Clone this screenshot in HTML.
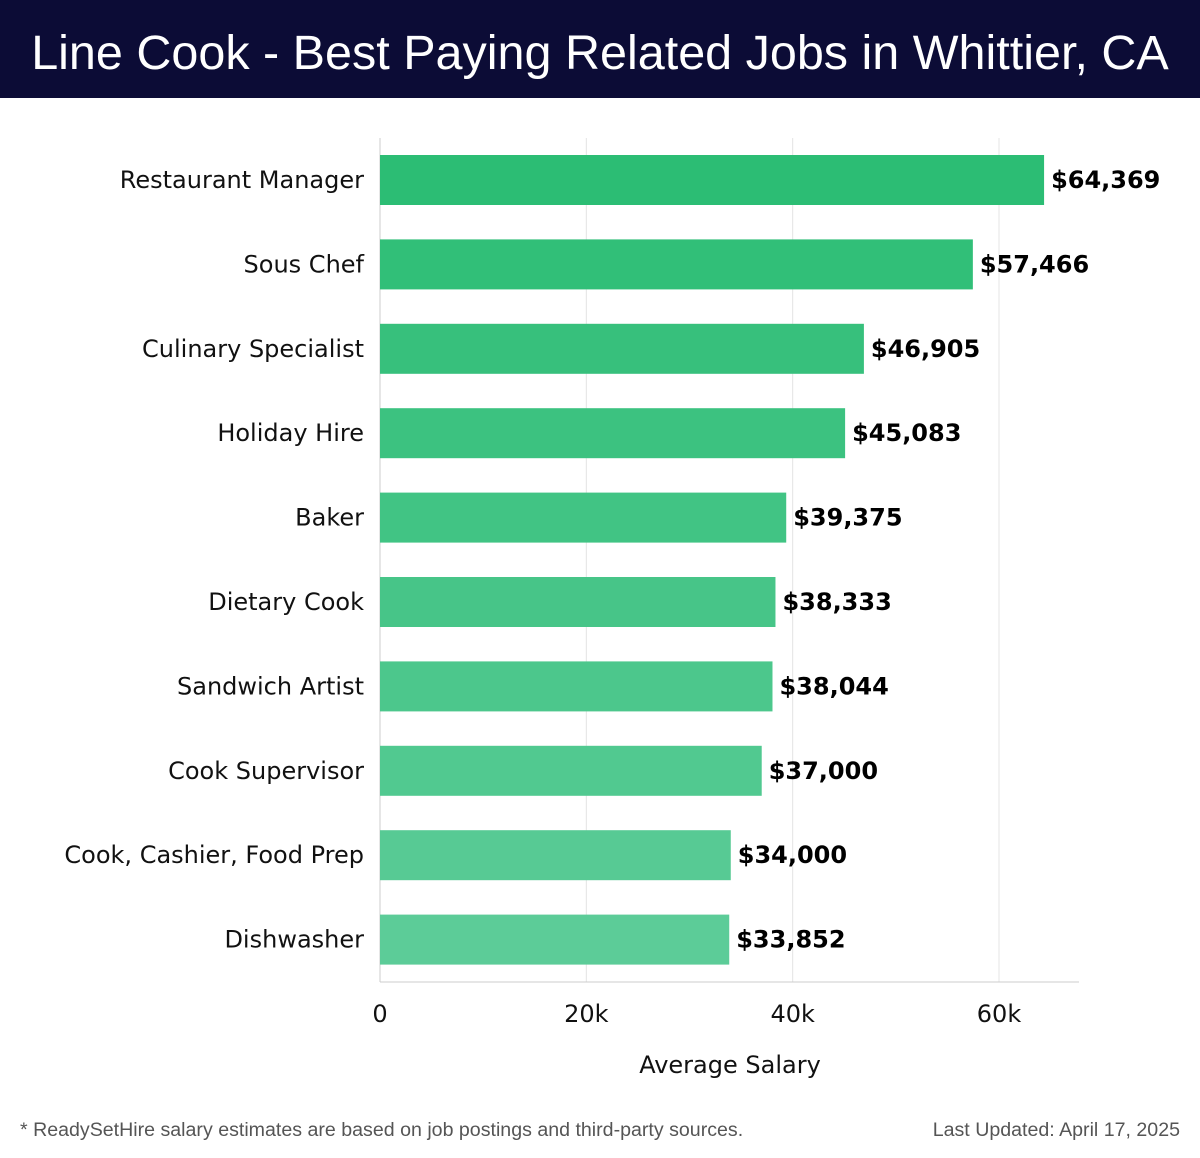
<!DOCTYPE html>
<html><head><meta charset="utf-8"><style>
body{margin:0;width:1200px;height:1158px;background:#fff;font-family:"Liberation Sans","DejaVu Sans",sans-serif;overflow:hidden;position:relative}
#hdr{position:absolute;left:0;top:0;width:1200px;height:98px;background:#0c0c36;color:#fff;font-size:48.5px;line-height:106px;text-align:center;font-family:"Liberation Sans",sans-serif}
.foot{position:absolute;top:1119px;font-size:19.6px;color:#555;font-family:"Liberation Sans",sans-serif}
svg text{font-family:"DejaVu Sans","Liberation Sans",sans-serif}
</style></head><body>
<div id="hdr">Line Cook - Best Paying Related Jobs in Whittier, CA</div>
<svg id="chart" width="1200" height="1000" style="position:absolute;left:0;top:98px" viewBox="0 98 1200 1000"></svg>
<div class="foot" style="left:20px">* ReadySetHire salary estimates are based on job postings and third-party sources.</div>
<div class="foot" style="right:20px">Last Updated: April 17, 2025</div>
<script>
const categories=["Restaurant Manager","Sous Chef","Culinary Specialist","Holiday Hire","Baker","Dietary Cook","Sandwich Artist","Cook Supervisor","Cook, Cashier, Food Prep","Dishwasher"];
const values=[64369,57466,46905,45083,39375,38333,38044,37000,34000,33852];
const valueLabels=["$64,369","$57,466","$46,905","$45,083","$39,375","$38,333","$38,044","$37,000","$34,000","$33,852"];
const ticks=[0,20000,40000,60000];
const tickLabels=["0","20k","40k","60k"];
const NS="http://www.w3.org/2000/svg";
const svg=document.getElementById('chart');
const x0=380,pxPer=(999-380)/60000,top0=138,bottom=982,step=84.4,bh=50;
const xs=v=>x0+v*pxPer;
const ys=i=>155+i*step;
function mk(t,a){const e=document.createElementNS(NS,t);for(const k in a)e.setAttribute(k,a[k]);svg.appendChild(e);return e;}
ticks.forEach((t,i)=>{
 const g=mk('line',{x1:xs(t),x2:xs(t),y1:top0,y2:bottom,stroke:i?'#e4e4e4':'#cccccc','stroke-width':1});
 
 
 const l=mk('text',{x:xs(t),y:1022,'text-anchor':'middle','font-size':24,fill:'#111'});
 l.textContent=tickLabels[i];
 
 
});
const ax=mk('line',{x1:x0,x2:1079,y1:bottom,y2:bottom,stroke:'#cccccc','stroke-width':1});


categories.forEach((c,i)=>{
 const f=i/(categories.length-1);
 const r=Math.round(44+f*48),g=Math.round(189+f*15),b=Math.round(116+f*36);
 const bar=mk('rect',{x:x0,y:ys(i),width:xs(values[i])-x0,height:bh,fill:`rgb(${r},${g},${b})`});
 
 
 const lab=mk('text',{x:364,y:ys(i)+bh/2+8,'text-anchor':'end','font-size':24,fill:'#111'});
 lab.textContent=c;
 
 
 const vl=mk('text',{x:xs(values[i])+7,y:ys(i)+bh/2+8,'font-size':24,'font-weight':'bold',fill:'#000'});
 vl.textContent=valueLabels[i];
 
 
});
const at=mk('text',{x:730,y:1073,'text-anchor':'middle','font-size':24,fill:'#111'});
at.textContent='Average Salary';


</script>
</body></html>
